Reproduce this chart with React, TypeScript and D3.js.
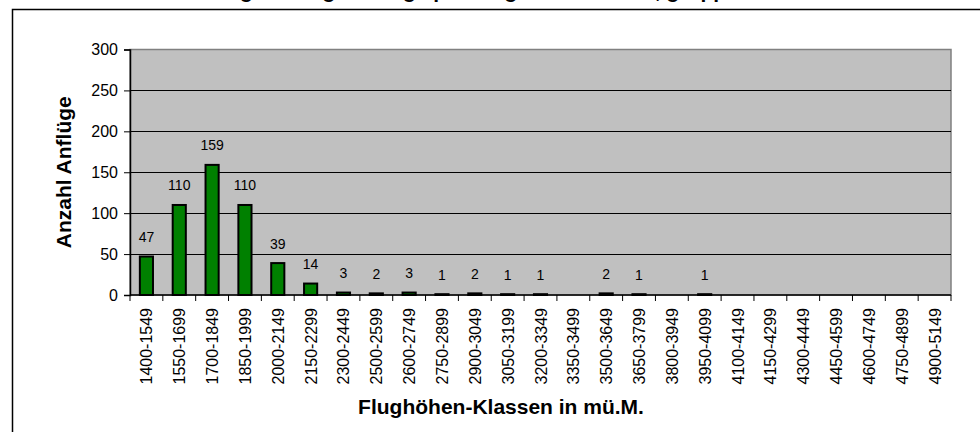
import React, { useEffect, useRef } from "react";
import * as d3 from "d3";

// Flughöhen-Klassen (x categories)
const classes = [
  "1400-1549", "1550-1699", "1700-1849", "1850-1999", "2000-2149",
  "2150-2299", "2300-2449", "2500-2599", "2600-2749", "2750-2899",
  "2900-3049", "3050-3199", "3200-3349", "3350-3499", "3500-3649",
  "3650-3799", "3800-3949", "3950-4099", "4100-4149", "4150-4299",
  "4300-4449", "4450-4599", "4600-4749", "4750-4899", "4900-5149",
];

// Anzahl Anflüge (null = empty cell)
const counts: (number | null)[] = [
  47, 110, 159, 110, 39, 14, 3, 2, 3, 1, 2, 1, 1, null, 2, 1, null, 1,
  null, null, null, null, null, null, null,
];

const yTicks = [0, 50, 100, 150, 200, 250, 300];

const title = "Verteilung der Vogelanflüge pro Flughöhen-Klasse, gruppiert";
const yTitle = "Anzahl Anflüge";
const xTitle = "Flughöhen-Klassen in mü.M.";

export default function App() {
  const ref = useRef<SVGSVGElement>(null);

  useEffect(() => {
    document.body.style.margin = "0";
    const svg = d3.select(ref.current);
    svg.selectAll("*").remove();

    const width = 980;
    const height = 432;
    const margin = { top: 49.5, bottom: 137, left: 130, right: 29 };
    const font = "'Liberation Sans', Arial, sans-serif";

    // outer chart frame (runs out of the picture)
    svg.append("rect")
      .attr("x", 12.5).attr("y", 9.5)
      .attr("width", 1000).attr("height", 500)
      .attr("fill", "#fff")
      .attr("stroke", "#000")
      .attr("stroke-width", 1.5);

    // title, mostly cut off at top in the original
    svg.append("text")
      .attr("x", 455).attr("y", -2)
      .attr("text-anchor", "middle")
      .attr("font-family", font)
      .attr("font-weight", "bold")
      .attr("font-size", 21)
      .text(title);

    const x = d3.scaleBand()
      .domain(classes)
      .range([margin.left, width - margin.right])
      .paddingInner(0.6)
      .paddingOuter(0.3);

    const y = d3.scaleLinear()
      .domain([0, 300])
      .range([height - margin.bottom, margin.top]);

    const x0 = margin.left;
    const x1 = width - margin.right;

    // plot area
    svg.append("rect")
      .attr("x", x0).attr("y", y(300))
      .attr("width", x1 - x0).attr("height", y(0) - y(300))
      .attr("fill", "#c0c0c0")
      .attr("stroke", "#808080")
      .attr("stroke-width", 1.5);

    // gridlines
    svg.append("g")
      .selectAll("line")
      .data(yTicks.filter(d => d > 0 && d < 300))
      .join("line")
      .attr("x1", x0).attr("x2", x1)
      .attr("y1", d => Math.round(y(d)) + 0.5)
      .attr("y2", d => Math.round(y(d)) + 0.5)
      .attr("stroke", "#000")
      .attr("stroke-width", 1);

    // bars
    const data = classes.map((c, i) => ({ c, v: counts[i] }));
    svg.append("g")
      .selectAll("rect")
      .data(data.filter(d => d.v !== null))
      .join("rect")
      .attr("x", d => x(d.c)!)
      .attr("y", d => y(d.v as number))
      .attr("width", x.bandwidth())
      .attr("height", d => y(0) - y(d.v as number))
      .attr("fill", "#008000")
      .attr("stroke", "#000")
      .attr("stroke-width", 2);

    // value labels
    svg.append("g")
      .selectAll("text")
      .data(data.filter(d => d.v !== null))
      .join("text")
      .attr("x", d => x(d.c)! + x.bandwidth() / 2)
      .attr("y", d => y(d.v as number) - 14.5)
      .attr("text-anchor", "middle")
      .attr("font-family", font)
      .attr("font-size", 14)
      .text(d => String(d.v));

    // y axis
    const yAxis = svg.append("g")
      .attr("transform", `translate(${x0},0)`)
      .call(d3.axisLeft(y).tickValues(yTicks).tickSize(6).tickPadding(6));
    yAxis.select(".domain").attr("stroke", "#000").attr("stroke-width", 1.5);
    yAxis.selectAll("text").attr("font-family", font).attr("font-size", 16).attr("fill", "#000");

    // x axis with ticks on category boundaries
    const xg = svg.append("g");
    xg.append("line")
      .attr("x1", x0).attr("x2", x1)
      .attr("y1", y(0)).attr("y2", y(0))
      .attr("stroke", "#000").attr("stroke-width", 1.5);
    const step = x.step();
    const bounds = d3.range(classes.length + 1).map(i => x0 + i * step);
    xg.selectAll("line.tick")
      .data(bounds)
      .join("line")
      .attr("class", "tick")
      .attr("x1", d => d).attr("x2", d => d)
      .attr("y1", y(0)).attr("y2", y(0) + 6)
      .attr("stroke", "#000");
    xg.selectAll("text")
      .data(classes)
      .join("text")
      .attr("transform", d => `translate(${x(d)! + x.bandwidth() / 2 + 6},${y(0) + 13}) rotate(-90)`)
      .attr("text-anchor", "end")
      .attr("font-family", font)
      .attr("font-size", 16)
      .text(d => d);

    // axis titles
    svg.append("text")
      .attr("transform", `translate(71,${(y(0) + y(300)) / 2}) rotate(-90)`)
      .attr("text-anchor", "middle")
      .attr("font-family", font)
      .attr("font-weight", "bold")
      .attr("font-size", 21)
      .text(yTitle);

    svg.append("text")
      .attr("x", 501).attr("y", 414)
      .attr("text-anchor", "middle")
      .attr("font-family", font)
      .attr("font-weight", "bold")
      .attr("font-size", 21)
      .text(xTitle);
  }, []);

  return <svg ref={ref} width={980} height={432} style={{ display: "block" }} />;
}
